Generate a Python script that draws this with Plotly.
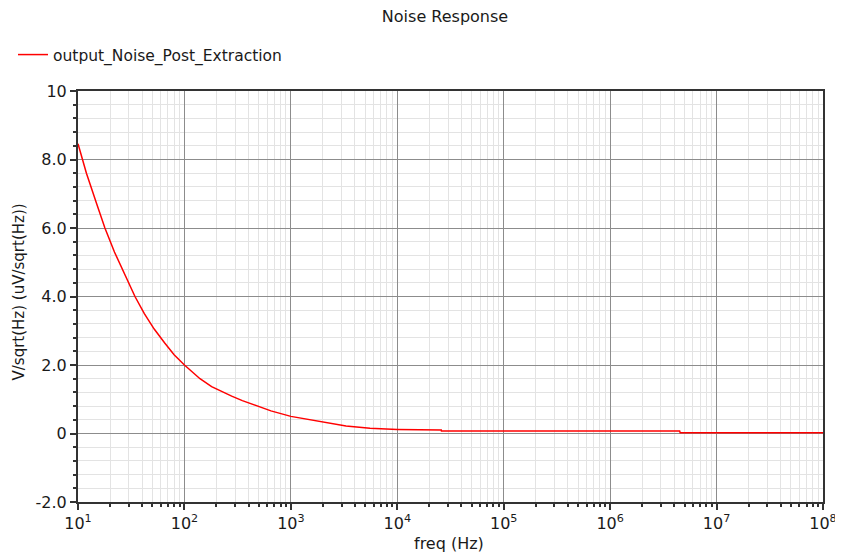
import plotly.graph_objects as go

# ---- data ----
freq_hz = [10, 12, 15, 17.9, 22, 27, 34.3, 42, 52, 65, 80, 100, 120, 140, 180, 220,
           278, 350, 478, 650, 1000, 1514, 2200, 3300, 5540, 10000, 25900, 26000,
           4.5e6, 4.55e6, 1e8]
noise_uv = [8.46, 7.6, 6.7, 6.0, 5.3, 4.7, 4.0, 3.5, 3.05, 2.65, 2.3, 2.0, 1.78, 1.6, 1.37, 1.23,
            1.09, 0.96, 0.8, 0.66, 0.5, 0.4, 0.3, 0.22, 0.15, 0.12, 0.10, 0.07,
            0.07, 0.025, 0.025]

series_name = "output_Noise_Post_Extraction"
x_tick_vals = [1e1, 1e2, 1e3, 1e4, 1e5, 1e6, 1e7, 1e8]
x_tick_text = ["10<sup>1</sup>", "10<sup>2</sup>", "10<sup>3</sup>", "10<sup>4</sup>",
               "10<sup>5</sup>", "10<sup>6</sup>", "10<sup>7</sup>", "10<sup>8</sup>"]
y_tick_vals = [-2, 0, 2, 4, 6, 8, 10]
y_tick_text = ["-2.0", "0", "2.0", "4.0", "6.0", "8.0", "10"]

FONT = "DejaVu Sans"
TXT = "#1a1a1a"
x_minor = [m * 10 ** e for e in range(1, 8) for m in range(2, 10)]
y_minor = [v / 10 for v in range(-20, 101, 4) if v % 20 != 0]

# page body has an 8px margin; size the figure so the plot lands where the reference has it
W, H, OFF = 835, 547, 8

fig = go.Figure()
fig.add_trace(go.Scatter(x=freq_hz, y=noise_uv, mode="lines", name=series_name,
                         line=dict(color="#ff0000", width=1.5)))

fig.update_layout(
    width=W, height=H,
    margin=dict(l=78 - OFF, r=20, t=91 - OFF, b=53, autoexpand=False),
    paper_bgcolor="white", plot_bgcolor="white",
    font=dict(family=FONT, size=13, color=TXT),
    title=dict(text="Noise Response", x=(445 - OFF) / W, xanchor="center",
               y=1 - (16 - OFF) / H, yanchor="middle", yref="container",
               font=dict(family=FONT, size=16, color=TXT)),
    showlegend=True,
    legend=dict(xref="container", yref="container", x=(13 - OFF) / W, y=1 - (55 - OFF) / H,
                xanchor="left", yanchor="middle", bgcolor="rgba(0,0,0,0)",
                font=dict(family=FONT, size=15.5, color=TXT)),
    annotations=[
        dict(text="freq (Hz)", xref="paper", yref="paper", x=(449 - 78) / 745, y=0,
             xanchor="center", yanchor="middle", yshift=-(543 - 502), showarrow=False,
             font=dict(family=FONT, size=16, color=TXT)),
        dict(text="V/sqrt(Hz) (uV/sqrt(Hz))", xref="paper", yref="paper", x=0, y=0.5,
             xanchor="center", yanchor="middle", xshift=-(78 - 18), yshift=4, textangle=-90,
             showarrow=False, font=dict(family=FONT, size=15, color=TXT)),
    ],
)

fig.update_xaxes(
    type="log", range=[1, 8],
    tickvals=x_tick_vals, ticktext=x_tick_text,
    ticks="outside", ticklen=6, tickcolor="#333333", tickwidth=1.5,
    showgrid=True, gridcolor="#8c8c8c", gridwidth=1,
    minor=dict(tickvals=x_minor, ticks="outside", ticklen=3, tickcolor="#333333",
               showgrid=True, gridcolor="#e3e3e3", gridwidth=1),
    showline=True, linecolor="#333333", linewidth=2, mirror=True,
    zeroline=False,
    tickfont=dict(family=FONT, size=16, color=TXT),
)
fig.update_yaxes(
    range=[-2, 10],
    tickvals=y_tick_vals, ticktext=y_tick_text,
    ticks="outside", ticklen=6, tickcolor="#333333", tickwidth=1.5,
    showgrid=True, gridcolor="#8c8c8c", gridwidth=1,
    minor=dict(tickvals=y_minor, ticks="outside", ticklen=3, tickcolor="#333333",
               showgrid=True, gridcolor="#e3e3e3", gridwidth=1),
    showline=True, linecolor="#333333", linewidth=2, mirror=True,
    zeroline=False,
    tickfont=dict(family=FONT, size=16, color=TXT),
)

fig.write_html("out.html")
